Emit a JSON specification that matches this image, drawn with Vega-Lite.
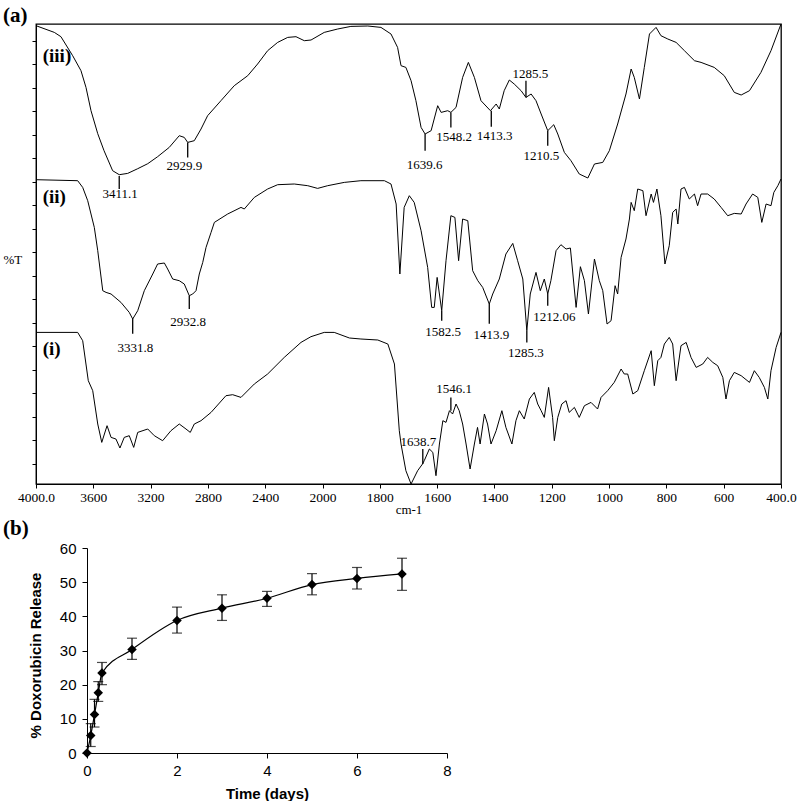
{
"$schema": "https://vega.github.io/schema/vega-lite/v6.json",
"background": "white",
"padding": {"left": 2, "top": 4, "right": 0, "bottom": 0},
"spacing": 0,
"config": {"view": {"stroke": null}},
"datasets": {
"spectra": [
{"s":"iii","wn":4000,"v":458.3},{"s":"iii","wn":3872,"v":451.6},{"s":"iii","wn":3826,"v":447.3},{"s":"iii","wn":3744,"v":428.3},{"s":"iii","wn":3686,"v":413.3},{"s":"iii","wn":3651,"v":396.6},{"s":"iii","wn":3616,"v":373.3},{"s":"iii","wn":3569,"v":350.3},{"s":"iii","wn":3525,"v":333.3},{"s":"iii","wn":3465,"v":313.3},{"s":"iii","wn":3419,"v":309.3},{"s":"iii","wn":3360,"v":310.6},{"s":"iii","wn":3290,"v":315.3},{"s":"iii","wn":3220,"v":320.3},{"s":"iii","wn":3151,"v":327.3},{"s":"iii","wn":3070,"v":336.6},{"s":"iii","wn":3000,"v":348.3},{"s":"iii","wn":2965,"v":346.6},{"s":"iii","wn":2941,"v":341.6},{"s":"iii","wn":2895,"v":343.3},{"s":"iii","wn":2848,"v":355},{"s":"iii","wn":2802,"v":368.3},{"s":"iii","wn":2709,"v":383.3},{"s":"iii","wn":2616,"v":398.3},{"s":"iii","wn":2522,"v":408.3},{"s":"iii","wn":2453,"v":420},{"s":"iii","wn":2383,"v":433.3},{"s":"iii","wn":2313,"v":441.6},{"s":"iii","wn":2243,"v":446.6},{"s":"iii","wn":2185,"v":447.3},{"s":"iii","wn":2127,"v":443.3},{"s":"iii","wn":2080,"v":444},{"s":"iii","wn":1994,"v":451.6},{"s":"iii","wn":1947,"v":455},{"s":"iii","wn":1901,"v":457.6},{"s":"iii","wn":1842,"v":458},{"s":"iii","wn":1796,"v":456.6},{"s":"iii","wn":1761,"v":450},{"s":"iii","wn":1738,"v":436.6},{"s":"iii","wn":1726,"v":418.3},{"s":"iii","wn":1709,"v":416.6},{"s":"iii","wn":1691,"v":403.3},{"s":"iii","wn":1674,"v":383.3},{"s":"iii","wn":1656,"v":356.6},{"s":"iii","wn":1642,"v":350},{"s":"iii","wn":1621,"v":353.3},{"s":"iii","wn":1598,"v":378.3},{"s":"iii","wn":1586,"v":371.6},{"s":"iii","wn":1563,"v":373.3},{"s":"iii","wn":1552,"v":371.6},{"s":"iii","wn":1534,"v":376.6},{"s":"iii","wn":1511,"v":406.6},{"s":"iii","wn":1491,"v":421.6},{"s":"iii","wn":1470,"v":406.6},{"s":"iii","wn":1447,"v":383.3},{"s":"iii","wn":1414,"v":373.3},{"s":"iii","wn":1394,"v":380},{"s":"iii","wn":1383,"v":375},{"s":"iii","wn":1366,"v":393.3},{"s":"iii","wn":1348,"v":404},{"s":"iii","wn":1331,"v":400},{"s":"iii","wn":1307,"v":393.3},{"s":"iii","wn":1290,"v":386.6},{"s":"iii","wn":1272,"v":390},{"s":"iii","wn":1255,"v":383.3},{"s":"iii","wn":1237,"v":370},{"s":"iii","wn":1214,"v":353.3},{"s":"iii","wn":1193,"v":359.3},{"s":"iii","wn":1179,"v":350},{"s":"iii","wn":1156,"v":331.6},{"s":"iii","wn":1133,"v":323.3},{"s":"iii","wn":1104,"v":310},{"s":"iii","wn":1074,"v":306},{"s":"iii","wn":1051,"v":320},{"s":"iii","wn":1022,"v":321.6},{"s":"iii","wn":999,"v":333.3},{"s":"iii","wn":970,"v":360},{"s":"iii","wn":941,"v":390},{"s":"iii","wn":923,"v":415},{"s":"iii","wn":912,"v":406.6},{"s":"iii","wn":894,"v":385},{"s":"iii","wn":877,"v":416.6},{"s":"iii","wn":859,"v":450},{"s":"iii","wn":836,"v":456.6},{"s":"iii","wn":819,"v":448.3},{"s":"iii","wn":795,"v":445},{"s":"iii","wn":766,"v":441.6},{"s":"iii","wn":737,"v":433.3},{"s":"iii","wn":702,"v":423.3},{"s":"iii","wn":679,"v":421.6},{"s":"iii","wn":633,"v":416.6},{"s":"iii","wn":598,"v":408.3},{"s":"iii","wn":563,"v":391.6},{"s":"iii","wn":539,"v":389},{"s":"iii","wn":510,"v":393.3},{"s":"iii","wn":470,"v":411.6},{"s":"iii","wn":435,"v":433.3},{"s":"iii","wn":400,"v":460},
{"s":"ii","wn":4000,"v":304.3},{"s":"ii","wn":3709,"v":303.3},{"s":"ii","wn":3674,"v":296.6},{"s":"ii","wn":3639,"v":283.3},{"s":"ii","wn":3593,"v":256.6},{"s":"ii","wn":3569,"v":233.3},{"s":"ii","wn":3534,"v":193.3},{"s":"ii","wn":3511,"v":191.6},{"s":"ii","wn":3476,"v":190},{"s":"ii","wn":3407,"v":181.6},{"s":"ii","wn":3349,"v":171.6},{"s":"ii","wn":3325,"v":165},{"s":"ii","wn":3290,"v":173.3},{"s":"ii","wn":3244,"v":193.3},{"s":"ii","wn":3185,"v":210},{"s":"ii","wn":3151,"v":220},{"s":"ii","wn":3104,"v":221},{"s":"ii","wn":3081,"v":215},{"s":"ii","wn":3046,"v":205},{"s":"ii","wn":3000,"v":203.3},{"s":"ii","wn":2965,"v":200},{"s":"ii","wn":2930,"v":188.3},{"s":"ii","wn":2906,"v":190},{"s":"ii","wn":2883,"v":193.3},{"s":"ii","wn":2860,"v":210},{"s":"ii","wn":2836,"v":221.6},{"s":"ii","wn":2813,"v":236.6},{"s":"ii","wn":2778,"v":251.6},{"s":"ii","wn":2755,"v":261.6},{"s":"ii","wn":2662,"v":270},{"s":"ii","wn":2569,"v":276.6},{"s":"ii","wn":2546,"v":275},{"s":"ii","wn":2476,"v":286.6},{"s":"ii","wn":2383,"v":295},{"s":"ii","wn":2313,"v":299.3},{"s":"ii","wn":2197,"v":300},{"s":"ii","wn":2103,"v":298.3},{"s":"ii","wn":2034,"v":295.6},{"s":"ii","wn":1982,"v":298.3},{"s":"ii","wn":1924,"v":301.6},{"s":"ii","wn":1866,"v":303.3},{"s":"ii","wn":1784,"v":303.3},{"s":"ii","wn":1761,"v":300},{"s":"ii","wn":1743,"v":280},{"s":"ii","wn":1730,"v":210},{"s":"ii","wn":1715,"v":276.6},{"s":"ii","wn":1697,"v":288.3},{"s":"ii","wn":1680,"v":281.6},{"s":"ii","wn":1656,"v":253.3},{"s":"ii","wn":1633,"v":216.6},{"s":"ii","wn":1619,"v":176.6},{"s":"ii","wn":1610,"v":176.6},{"s":"ii","wn":1600,"v":206.6},{"s":"ii","wn":1584,"v":173.3},{"s":"ii","wn":1569,"v":223.3},{"s":"ii","wn":1552,"v":268.3},{"s":"ii","wn":1538,"v":266.6},{"s":"ii","wn":1525,"v":223.3},{"s":"ii","wn":1511,"v":265},{"s":"ii","wn":1493,"v":263.3},{"s":"ii","wn":1476,"v":213.3},{"s":"ii","wn":1458,"v":203.3},{"s":"ii","wn":1441,"v":196.6},{"s":"ii","wn":1418,"v":180},{"s":"ii","wn":1406,"v":190},{"s":"ii","wn":1383,"v":205},{"s":"ii","wn":1360,"v":230},{"s":"ii","wn":1336,"v":240.6},{"s":"ii","wn":1319,"v":223.3},{"s":"ii","wn":1301,"v":205},{"s":"ii","wn":1287,"v":153.3},{"s":"ii","wn":1275,"v":190},{"s":"ii","wn":1255,"v":211.6},{"s":"ii","wn":1240,"v":193.3},{"s":"ii","wn":1226,"v":205},{"s":"ii","wn":1214,"v":190},{"s":"ii","wn":1203,"v":203.3},{"s":"ii","wn":1185,"v":233.3},{"s":"ii","wn":1168,"v":239.3},{"s":"ii","wn":1150,"v":235},{"s":"ii","wn":1135,"v":236},{"s":"ii","wn":1115,"v":176.6},{"s":"ii","wn":1100,"v":217.3},{"s":"ii","wn":1086,"v":203.3},{"s":"ii","wn":1072,"v":170},{"s":"ii","wn":1051,"v":225},{"s":"ii","wn":1034,"v":203.3},{"s":"ii","wn":1022,"v":193.3},{"s":"ii","wn":1007,"v":160},{"s":"ii","wn":993,"v":163.3},{"s":"ii","wn":979,"v":198.3},{"s":"ii","wn":970,"v":190},{"s":"ii","wn":958,"v":226.6},{"s":"ii","wn":941,"v":245},{"s":"ii","wn":929,"v":265},{"s":"ii","wn":923,"v":281.6},{"s":"ii","wn":912,"v":273.3},{"s":"ii","wn":900,"v":295},{"s":"ii","wn":882,"v":293.3},{"s":"ii","wn":871,"v":268.3},{"s":"ii","wn":853,"v":290},{"s":"ii","wn":845,"v":281.6},{"s":"ii","wn":833,"v":295},{"s":"ii","wn":819,"v":268.3},{"s":"ii","wn":805,"v":220},{"s":"ii","wn":790,"v":238.3},{"s":"ii","wn":778,"v":271.6},{"s":"ii","wn":766,"v":275},{"s":"ii","wn":760,"v":260},{"s":"ii","wn":749,"v":295},{"s":"ii","wn":737,"v":296.6},{"s":"ii","wn":720,"v":285},{"s":"ii","wn":702,"v":290},{"s":"ii","wn":691,"v":278.3},{"s":"ii","wn":679,"v":290},{"s":"ii","wn":656,"v":290},{"s":"ii","wn":633,"v":285},{"s":"ii","wn":609,"v":276.6},{"s":"ii","wn":586,"v":268.3},{"s":"ii","wn":563,"v":270.6},{"s":"ii","wn":539,"v":270},{"s":"ii","wn":522,"v":280},{"s":"ii","wn":499,"v":290},{"s":"ii","wn":481,"v":286.6},{"s":"ii","wn":467,"v":261.6},{"s":"ii","wn":452,"v":280},{"s":"ii","wn":435,"v":278.3},{"s":"ii","wn":425,"v":291.6},{"s":"ii","wn":411,"v":298.3},{"s":"ii","wn":400,"v":305},
{"s":"i","wn":4000,"v":151.6},{"s":"i","wn":3709,"v":151.6},{"s":"i","wn":3674,"v":143.3},{"s":"i","wn":3635,"v":103.3},{"s":"i","wn":3604,"v":93.3},{"s":"i","wn":3569,"v":60},{"s":"i","wn":3541,"v":41.6},{"s":"i","wn":3504,"v":58.3},{"s":"i","wn":3476,"v":46.6},{"s":"i","wn":3442,"v":45},{"s":"i","wn":3414,"v":36},{"s":"i","wn":3384,"v":46.6},{"s":"i","wn":3349,"v":48.3},{"s":"i","wn":3318,"v":36.6},{"s":"i","wn":3290,"v":51.6},{"s":"i","wn":3220,"v":55},{"s":"i","wn":3174,"v":48.3},{"s":"i","wn":3116,"v":43.3},{"s":"i","wn":3058,"v":53.3},{"s":"i","wn":3000,"v":60},{"s":"i","wn":2953,"v":55},{"s":"i","wn":2923,"v":51.6},{"s":"i","wn":2895,"v":60},{"s":"i","wn":2848,"v":63.3},{"s":"i","wn":2778,"v":71.6},{"s":"i","wn":2674,"v":88.3},{"s":"i","wn":2627,"v":89.3},{"s":"i","wn":2569,"v":86.6},{"s":"i","wn":2476,"v":100},{"s":"i","wn":2383,"v":110},{"s":"i","wn":2267,"v":126.6},{"s":"i","wn":2150,"v":141.6},{"s":"i","wn":2081,"v":147.3},{"s":"i","wn":1994,"v":151.6},{"s":"i","wn":1959,"v":151.6},{"s":"i","wn":1906,"v":146},{"s":"i","wn":1866,"v":145},{"s":"i","wn":1807,"v":144},{"s":"i","wn":1772,"v":140},{"s":"i","wn":1749,"v":120},{"s":"i","wn":1732,"v":53.3},{"s":"i","wn":1726,"v":40},{"s":"i","wn":1709,"v":13.3},{"s":"i","wn":1691,"v":0},{"s":"i","wn":1668,"v":13.3},{"s":"i","wn":1651,"v":20},{"s":"i","wn":1645,"v":23.3},{"s":"i","wn":1627,"v":35},{"s":"i","wn":1615,"v":31.6},{"s":"i","wn":1604,"v":8.3},{"s":"i","wn":1592,"v":40},{"s":"i","wn":1580,"v":63.3},{"s":"i","wn":1569,"v":61.6},{"s":"i","wn":1557,"v":73.3},{"s":"i","wn":1546,"v":70},{"s":"i","wn":1534,"v":80},{"s":"i","wn":1523,"v":73.3},{"s":"i","wn":1511,"v":60},{"s":"i","wn":1499,"v":40},{"s":"i","wn":1485,"v":15},{"s":"i","wn":1470,"v":40},{"s":"i","wn":1459,"v":56.6},{"s":"i","wn":1450,"v":40},{"s":"i","wn":1435,"v":70},{"s":"i","wn":1424,"v":60},{"s":"i","wn":1412,"v":40},{"s":"i","wn":1394,"v":53.3},{"s":"i","wn":1374,"v":73.3},{"s":"i","wn":1360,"v":56.6},{"s":"i","wn":1339,"v":40},{"s":"i","wn":1325,"v":63.3},{"s":"i","wn":1313,"v":73.3},{"s":"i","wn":1296,"v":65},{"s":"i","wn":1278,"v":85},{"s":"i","wn":1261,"v":91.6},{"s":"i","wn":1249,"v":80},{"s":"i","wn":1237,"v":73.3},{"s":"i","wn":1226,"v":66.6},{"s":"i","wn":1211,"v":96.6},{"s":"i","wn":1197,"v":66.6},{"s":"i","wn":1191,"v":43.3},{"s":"i","wn":1179,"v":66.6},{"s":"i","wn":1165,"v":80},{"s":"i","wn":1150,"v":83.3},{"s":"i","wn":1139,"v":71.6},{"s":"i","wn":1121,"v":76.6},{"s":"i","wn":1104,"v":66.6},{"s":"i","wn":1086,"v":78.3},{"s":"i","wn":1063,"v":81.6},{"s":"i","wn":1040,"v":75},{"s":"i","wn":1028,"v":86.6},{"s":"i","wn":1005,"v":93.3},{"s":"i","wn":982,"v":101.6},{"s":"i","wn":958,"v":115},{"s":"i","wn":947,"v":110},{"s":"i","wn":935,"v":110},{"s":"i","wn":917,"v":90},{"s":"i","wn":900,"v":93.3},{"s":"i","wn":877,"v":113.3},{"s":"i","wn":853,"v":133.3},{"s":"i","wn":842,"v":98.3},{"s":"i","wn":830,"v":123.3},{"s":"i","wn":819,"v":126.6},{"s":"i","wn":807,"v":140},{"s":"i","wn":790,"v":146.6},{"s":"i","wn":778,"v":140},{"s":"i","wn":766,"v":103.3},{"s":"i","wn":749,"v":138.3},{"s":"i","wn":731,"v":141.6},{"s":"i","wn":714,"v":126.6},{"s":"i","wn":696,"v":116.6},{"s":"i","wn":673,"v":120},{"s":"i","wn":656,"v":126.6},{"s":"i","wn":638,"v":121.6},{"s":"i","wn":621,"v":118.3},{"s":"i","wn":603,"v":106.6},{"s":"i","wn":592,"v":85},{"s":"i","wn":580,"v":103.3},{"s":"i","wn":563,"v":111.6},{"s":"i","wn":539,"v":108.3},{"s":"i","wn":510,"v":101.6},{"s":"i","wn":493,"v":113.3},{"s":"i","wn":476,"v":106.6},{"s":"i","wn":458,"v":96.6},{"s":"i","wn":446,"v":85},{"s":"i","wn":435,"v":113.3},{"s":"i","wn":417,"v":136.6},{"s":"i","wn":400,"v":151.6}
],
"peakLines": [
{"wn":3419,"v":308,"v2":295},{"wn":2941,"v":341.6,"v2":326.6},{"wn":1642,"v":350,"v2":333.3},{"wn":1552,"v":371.6,"v2":356.6},{"wn":1411,"v":373.3,"v2":357.3},{"wn":1290,"v":403.3,"v2":386.6},{"wn":1214,"v":353.3,"v2":338.3},
{"wn":3325,"v":165.3,"v2":150.3},{"wn":2930,"v":188.3,"v2":175},{"wn":1584,"v":173.3,"v2":163.3},{"wn":1418,"v":180.3,"v2":160.3},{"wn":1287,"v":153.3,"v2":141.6},{"wn":1214,"v":190,"v2":178.3},
{"wn":1650,"v":35,"v2":20},{"wn":1552,"v":86.6,"v2":73.3}
],
"peakLabels": [
{"wn":3412,"v":290,"label":"3411.1"},{"wn":2965,"v":318.3,"label":"2929.9"},{"wn":1644,"v":319.5,"label":"1639.6"},{"wn":1541,"v":346.6,"label":"1548.2"},{"wn":1399,"v":348.3,"label":"1413.3"},{"wn":1275,"v":410,"label":"1285.5"},{"wn":1236,"v":328,"label":"1210.5"},
{"wn":3307,"v":136.3,"label":"3331.8"},{"wn":2938,"v":162,"label":"2932.8"},{"wn":1579,"v":151.6,"label":"1582.5"},{"wn":1411,"v":148.6,"label":"1413.9"},{"wn":1290,"v":131.3,"label":"1285.3"},{"wn":1191,"v":167.3,"label":"1212.06"},
{"wn":1665,"v":41.6,"label":"1638.7"},{"wn":1541,"v":95,"label":"1546.1"}
],
"seriesLabels": [
{"wn":3953,"v":427.8,"label":"(iii)"},{"wn":3953,"v":286.6,"label":"(ii)"},{"wn":3953,"v":135,"label":"(i)"}
],
"release": [
{"t":0,"r":0,"lo":null,"hi":null},{"t":0.083,"r":5.1,"lo":1.9,"hi":8.6},{"t":0.167,"r":11.3,"lo":7.6,"hi":15.7},{"t":0.25,"r":17.6,"lo":15.1,"hi":20.9},{"t":0.333,"r":23.4,"lo":20,"hi":26.5},{"t":1,"r":30.3,"lo":27.4,"hi":33.6},{"t":2,"r":38.8,"lo":35.1,"hi":42.7},{"t":3,"r":42.4,"lo":38.8,"hi":46.3},{"t":4,"r":45.3,"lo":42.9,"hi":47.3},{"t":5,"r":49.3,"lo":46.3,"hi":52.5},{"t":6,"r":51.1,"lo":48,"hi":54.3},{"t":7,"r":52.4,"lo":47.6,"hi":57}
]
},
"vconcat": [
{
"width": 745, "height": 460,
"view": {"stroke": "#000", "strokeWidth": 1.3},
"title": {"text": "(a)", "anchor": "start", "frame": "group", "dx": -33, "dy": 22.7, "offset": 2, "baseline": "alphabetic", "font": "Liberation Serif", "fontSize": 21, "fontWeight": "bold", "color": "#000"},
"encoding": {
"x": {"field": "wn", "type": "quantitative", "title": "cm-1",
"scale": {"domain": [4000, 2000, 400], "range": [0, 286.5, 745], "nice": false, "zero": false},
"axis": {"values": [4000,3600,3200,2800,2400,2000,1800,1600,1400,1200,1000,800,600,400], "format": "d",
"labelExpr": "datum.value == 4000 ? '4000.0' : (datum.value == 400 ? '400.0' : datum.label)",
"labelFlush": false, "labelOverlap": false, "grid": false, "tickSize": 4, "labelPadding": 2,
"labelFont": "Liberation Serif", "labelFontSize": 13.5, "labelColor": "#000", "domainColor": "#000", "tickColor": "#000",
"titleFont": "Liberation Serif", "titleFontSize": 13, "titleFontWeight": "normal", "titleColor": "#000", "titlePadding": 0}},
"y": {"field": "v", "type": "quantitative", "title": "%T",
"scale": {"domain": [0, 460], "nice": false, "zero": false},
"axis": {"values": [20.3,43.8,67.3,90.8,114.3,137.8,161.3,184.8,208.3,231.8,255.3,278.8,302.3,325.8,349.3,372.8,396.3,419.8,443.3],
"labels": false, "grid": false, "tickSize": 4, "domainColor": "#000", "tickColor": "#000",
"titleAngle": 0, "titleX": -33, "titleY": 235, "titleAlign": "left", "titleBaseline": "middle",
"titleFont": "Liberation Serif", "titleFontSize": 13, "titleFontWeight": "normal", "titleColor": "#000"}}
},
"layer": [
{"data": {"name": "spectra"}, "mark": {"type": "line", "color": "#000", "strokeWidth": 1}, "encoding": {"detail": {"field": "s"}}},
{"data": {"name": "peakLines"}, "mark": {"type": "rule", "color": "#000", "strokeWidth": 1.3}, "encoding": {"y2": {"field": "v2"}}},
{"data": {"name": "peakLabels"}, "mark": {"type": "text", "font": "Liberation Serif", "fontSize": 13, "color": "#000", "align": "center", "baseline": "middle"}, "encoding": {"text": {"field": "label"}}},
{"data": {"name": "seriesLabels"}, "mark": {"type": "text", "font": "Liberation Serif", "fontSize": 19, "fontWeight": "bold", "color": "#000", "align": "left", "baseline": "middle"}, "encoding": {"text": {"field": "label"}}}
]
},
{
"width": 411, "height": 205,
"data": {"name": "release"},
"title": {"text": "(b)", "anchor": "start", "frame": "group", "dx": -33, "dy": 23, "offset": 8, "baseline": "alphabetic", "font": "Liberation Serif", "fontSize": 21, "fontWeight": "bold", "color": "#000"},
"encoding": {
"x": {"field": "t", "type": "quantitative", "title": "Time (days)",
"scale": {"domain": [0, 8], "range": [51, 411], "nice": false, "zero": false},
"axis": {"values": [0,2,4,6,8], "grid": false, "tickSize": 5, "labelPadding": 5, "labelFlush": false,
"labelFont": "Liberation Sans", "labelFontSize": 15, "labelColor": "#000", "domainColor": "#000", "tickColor": "#000",
"titleFont": "Liberation Sans", "titleFontSize": 15, "titleFontWeight": "bold", "titleColor": "#000", "titlePadding": 8, "titleX": 231}},
"y": {"field": "r", "type": "quantitative", "title": "% Doxorubicin Release",
"scale": {"domain": [0, 60], "nice": false, "zero": false},
"axis": {"values": [0,10,20,30,40,50,60], "grid": false, "tickSize": 5, "labelPadding": 6, "offset": -51,
"labelFont": "Liberation Sans", "labelFontSize": 15, "labelColor": "#000", "domainColor": "#000", "tickColor": "#000",
"titleFont": "Liberation Sans", "titleFontSize": 15, "titleFontWeight": "bold", "titleColor": "#000", "titlePadding": 16, "titleY": 107}}
},
"layer": [
{"mark": {"type": "line", "color": "#000", "strokeWidth": 1.2, "interpolate": "monotone"}},
{"mark": {"type": "rule", "color": "#000", "strokeWidth": 1.2}, "encoding": {"y": {"field": "lo", "type": "quantitative", "title": "% Doxorubicin Release"}, "y2": {"field": "hi"}}},
{"mark": {"type": "tick", "orient": "horizontal", "color": "#000", "size": 10, "thickness": 1.2}, "encoding": {"y": {"field": "lo", "type": "quantitative", "title": "% Doxorubicin Release"}}},
{"mark": {"type": "tick", "orient": "horizontal", "color": "#000", "size": 10, "thickness": 1.2}, "encoding": {"y": {"field": "hi", "type": "quantitative", "title": "% Doxorubicin Release"}}},
{"mark": {"type": "point", "shape": "diamond", "filled": true, "color": "#000", "size": 90, "opacity": 1}}
]
}
]
}
